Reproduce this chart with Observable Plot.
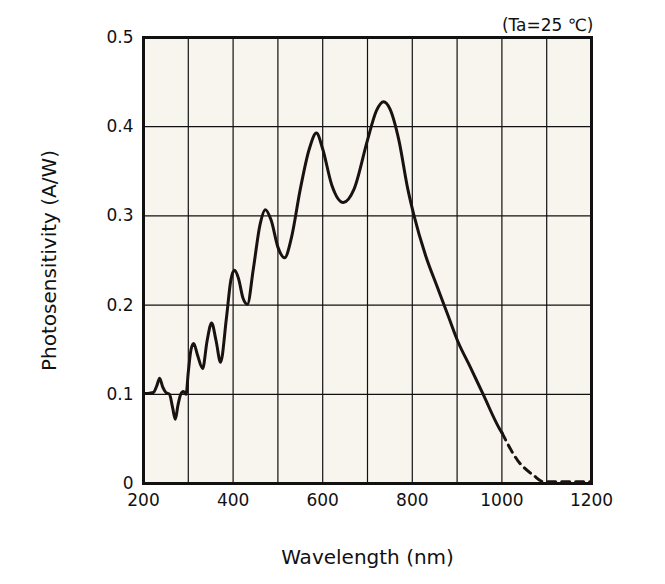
<!DOCTYPE html>
<html><head><meta charset="utf-8">
<script src="https://cdn.jsdelivr.net/npm/d3@7"></script>
<script src="https://cdn.jsdelivr.net/npm/@observablehq/plot@0.6"></script>
<style>body{margin:0;background:#fff;} svg{display:block;}</style>
</head><body><div id="chart"></div>
<script>
const solidWl = [200,210,222,230,236,243,250,258,265,271,277,283,289,295,300,306,312,320,332,342,352,362,372,385,395,403,412,422,432,445,460,472,485,500,515,530,550,570,586,600,620,646,670,700,720,736,750,770,790,803,830,856,880,901,930,959,994,1000];
const solidPs = [0.101,0.101,0.102,0.110,0.118,0.108,0.102,0.100,0.085,0.072,0.088,0.100,0.103,0.100,0.125,0.150,0.157,0.145,0.129,0.160,0.180,0.160,0.136,0.185,0.228,0.239,0.230,0.208,0.201,0.240,0.290,0.307,0.295,0.265,0.253,0.275,0.330,0.375,0.393,0.375,0.335,0.315,0.330,0.385,0.418,0.428,0.420,0.385,0.330,0.302,0.255,0.220,0.188,0.160,0.130,0.099,0.062,0.057];
const dashWl = [1000,1035,1071,1093,1110,1200];
const dashPs = [0.057,0.026,0.009,0.002,0.002,0.002];
const xTicks = [200,400,600,800,1000,1200];
const yTicks = [0,0.1,0.2,0.3,0.4,0.5];
const note = "(Ta=25 ℃)";

const solid = solidWl.map((w,i)=>({w, p: solidPs[i]}));
const dashed = dashWl.map((w,i)=>({w, p: dashPs[i]}));
const font = "DejaVu Sans, sans-serif";

const chart = Plot.plot({
  width: 665, height: 584,
  marginLeft: 143, marginRight: 74, marginTop: 37, marginBottom: 101,
  style: {fontFamily: font, fontSize: "16px", color: "#111", background: "#fff"},
  x: {domain: [200,1200]},
  y: {domain: [0,0.5]},
  marks: [
    Plot.frame({fill: "#f7f5ee"}),
    Plot.gridX(d3.range(300,1200,100), {stroke: "#111", strokeOpacity: 1, strokeWidth: 1.2}),
    Plot.gridY([0.1,0.2,0.3,0.4], {stroke: "#111", strokeOpacity: 1, strokeWidth: 1.2}),
    Plot.frame({stroke: "#111", strokeWidth: 3}),
    Plot.line(solid, {x: "w", y: "p", curve: "monotone-x", stroke: "#1a1212", strokeWidth: 3}),
    Plot.line(dashed, {x: "w", y: "p", curve: "monotone-x", stroke: "#1a1212", strokeWidth: 3, strokeDasharray: "8,6"}),
    Plot.axisX({ticks: xTicks, tickSize: 0, tickPadding: 10, fontSize: 17, tickFormat: d => String(d), label: "Wavelength (nm)", labelAnchor: "center", labelArrow: "none", labelOffset: 80}),
    Plot.axisY({ticks: yTicks, tickSize: 0, tickPadding: 10, fontSize: 17, tickFormat: d => d === 0 ? "0" : d.toFixed(1), label: "Photosensitivity (A/W)", labelAnchor: "center", labelArrow: "none", labelOffset: 102}),
    Plot.text([note], {frameAnchor: "top-right", dy: -19, dx: 2, fontSize: 17, text: d => d})
  ]
});
chart.querySelectorAll('[aria-label="x-axis label"] text, [aria-label="y-axis label"] text').forEach(t => t.setAttribute("font-size", "20"));
document.getElementById("chart").appendChild(chart);
</script></body></html>
